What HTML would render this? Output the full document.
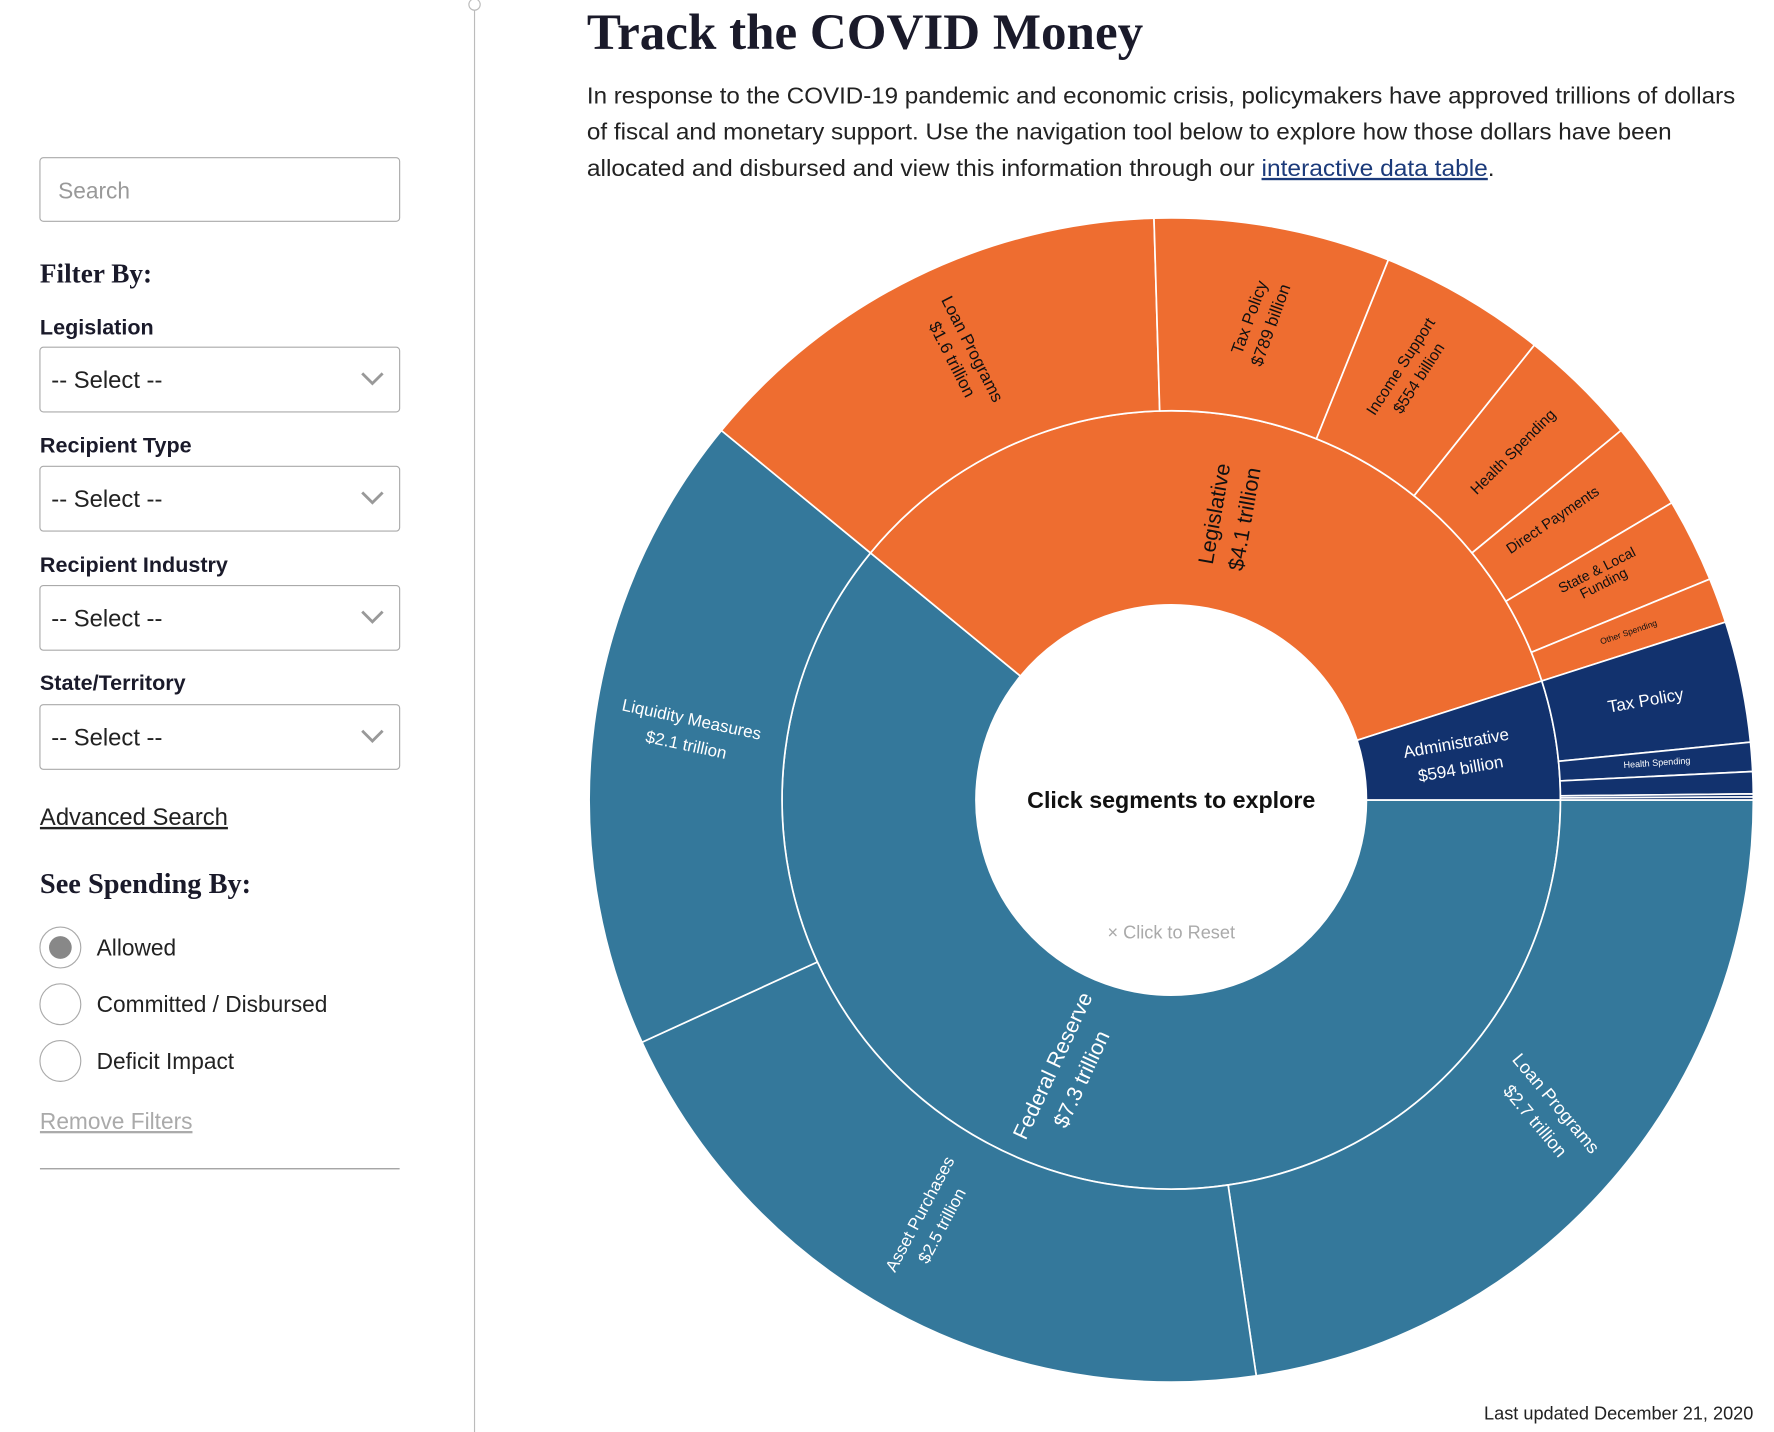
<!DOCTYPE html>
<html><head><meta charset="utf-8">
<style>
html,body{margin:0;padding:0;background:#fff;}
svg{display:block;}
.s{font-family:"Liberation Sans",sans-serif;}
.serif{font-family:"Liberation Serif",serif;font-weight:bold;}
</style></head>
<body>
<svg id="v" width="1774" height="1432" viewBox="0 0 1563 1262" xmlns="http://www.w3.org/2000/svg">
<!-- sidebar -->
<line x1="418" y1="8" x2="418" y2="1262" stroke="#bbb" stroke-width="1"/>
<circle cx="418" cy="4" r="5" fill="#fff" stroke="#bbb"/>
<rect x="35" y="139" width="317" height="56" rx="3" fill="#fff" stroke="#aaa"/>
<text x="51" y="175" class="s" font-size="20" fill="#999">Search</text>
<text x="35" y="249" class="serif" font-size="24" fill="#1a1a2a">Filter By:</text>
<g class="s" font-size="19" font-weight="bold" fill="#1a1a2a">
<text x="35" y="295">Legislation</text>
<text x="35" y="399">Recipient Type</text>
<text x="35" y="504">Recipient Industry</text>
<text x="35" y="608">State/Territory</text>
</g>
<g id="sels"></g>
<text x="35" y="727" class="s" font-size="21" fill="#222" text-decoration="underline">Advanced Search</text>
<text x="35" y="787" class="serif" font-size="25" fill="#1a1a2a">See Spending By:</text>
<circle cx="53" cy="835" r="18" fill="#fff" stroke="#aaa"/>
<circle cx="53" cy="835" r="10" fill="#888"/>
<circle cx="53" cy="885" r="18" fill="#fff" stroke="#aaa"/>
<circle cx="53" cy="935" r="18" fill="#fff" stroke="#aaa"/>
<g class="s" font-size="20" fill="#222">
<text x="85" y="842">Allowed</text>
<text x="85" y="892">Committed / Disbursed</text>
<text x="85" y="942">Deficit Impact</text>
</g>
<text x="35" y="995" class="s" font-size="20" fill="#aaa" text-decoration="underline">Remove Filters</text>
<line x1="35" y1="1030" x2="352" y2="1030" stroke="#999"/>
<!-- header -->
<text x="517" y="43" class="serif" font-size="45" fill="#1a1a2a">Track the COVID Money</text>
<g class="s" font-size="20.5" fill="#222">
<text x="517" y="91" textLength="1012" lengthAdjust="spacingAndGlyphs">In response to the COVID-19 pandemic and economic crisis, policymakers have approved trillions of dollars</text>
<text x="517" y="123" textLength="956" lengthAdjust="spacingAndGlyphs">of fiscal and monetary support. Use the navigation tool below to explore how those dollars have been</text>
<text x="517" y="155" textLength="800" lengthAdjust="spacingAndGlyphs">allocated and disbursed and view this information through our <tspan fill="#1b3a7a" text-decoration="underline">interactive data table</tspan>.</text>
</g>
<g id="chart"></g>
<g class="s" fill="#111" text-anchor="middle">
<text x="1032" y="712" font-size="20.5" font-weight="bold">Click segments to explore</text>
<text x="1032" y="827" font-size="16" fill="#aaa">× Click to Reset</text>
<text x="1545" y="1251" font-size="16" text-anchor="end" fill="#222">Last updated December 21, 2020</text>
</g>
<g id="labels" class="s" text-anchor="middle"></g>
</svg>
<script>
var NS="http://www.w3.org/2000/svg";
function el(p,t,a,txt){var e=document.createElementNS(NS,t);for(var k in a)e.setAttribute(k,a[k]);if(txt)e.textContent=txt;p.appendChild(e);return e;}
var sels=document.getElementById('sels');
[306,411,516,621].forEach(function(y){
 el(sels,'rect',{x:35,y:y,width:317,height:57,rx:3,fill:'#fff',stroke:'#aaa'});
 el(sels,'text',{x:45,y:y+36,'class':'s','font-size':21,fill:'#222'},'-- Select --');
 el(sels,'path',{d:'M319 '+(y+23)+' L328 '+(y+32)+' L337 '+(y+23),fill:'none',stroke:'#999','stroke-width':2.5});
});
var cx=1032,cy=705,r0=172,r1=343,r2=513;
function pt(r,a){a=a*Math.PI/180;return [cx+r*Math.cos(a),cy+r*Math.sin(a)];}
function arc(ri,ro,a0,a1){var l=(a1-a0)>180?1:0;var p1=pt(ro,a0),p2=pt(ro,a1),p3=pt(ri,a1),p4=pt(ri,a0);
return 'M'+p1+' A'+ro+' '+ro+' 0 '+l+' 1 '+p2+' L'+p3+' A'+ri+' '+ri+' 0 '+l+' 0 '+p4+'Z';}
var ch=document.getElementById('chart');
var O='#ee6d30',B='#34789b',N='#12326e';
var segs=[[r0,r1,0,219.4,B],[r0,r1,219.4,342.2,O],[r0,r1,342.2,360,N],
[r1,r2,0,81.6,B],[r1,r2,81.6,155.4,B],[r1,r2,155.4,219.4,B],
[r1,r2,219.4,268.3,O],[r1,r2,268.3,291.9,O],[r1,r2,291.9,308.6,O],[r1,r2,308.6,320.6,O],[r1,r2,320.6,329.3,O],[r1,r2,329.3,337.7,O],[r1,r2,337.7,342.2,O],
[r1,r2,342.2,354.3,N],[r1,r2,354.3,357.2,N],[r1,r2,357.2,359.4,N],[r1,r2,359.4,359.7,N],[r1,r2,359.7,360,N]];
segs.forEach(function(s){el(ch,'path',{d:arc(s[0],s[1],s[2],s[3]),fill:s[4],stroke:'#fff','stroke-width':1.5});});
var L=document.getElementById('labels');
function lab(x,y,rot,size,col,lines,gap){var g=el(L,'g',{transform:'translate('+x+' '+y+') rotate('+rot+')',fill:col,'font-size':size});
var n=lines.length;lines.forEach(function(t,i){el(g,'text',{x:0,y:(i-(n-1)/2)*gap+size*0.35},t);});}
lab(848,312,63,15,'#111',['Loan Programs','$1.6 trillion'],20);
lab(1110,283,-70,15,'#111',['Tax Policy','$789 billion'],20);
lab(1242,328,-57,14,'#111',['Income Support','$554 billion'],19);
lab(1333,398,-45,13.5,'#111',['Health Spending'],18);
lab(1368,458,-34,13,'#111',['Direct Payments'],18);
lab(1410,508,-27,12.5,'#111',['State & Local','Funding'],13);
lab(1435,557,-19,7.5,'#111',['Other Spending'],10);
lab(1083,455,-80,19,'#111',['Legislative','$4.1 trillion'],27);
lab(1450,617,-10,15,'#fff',['Tax Policy'],18);
lab(1460,672,-4,8,'#fff',['Health Spending'],10);
lab(1285,666,-10,15,'#fff',['Administrative','$594 billion'],23);
lab(607,645,12,15,'#fff',['Liquidity Measures','$2.1 trillion'],23);
lab(820,1075,-62,15,'#fff',['Asset Purchases','$2.5 trillion'],22);
lab(940,945,-65,19,'#fff',['Federal Reserve','$7.3 trillion'],28);
lab(1362,980,50,16,'#fff',['Loan Programs','$2.7 trillion'],24);
</script>
</body></html>
